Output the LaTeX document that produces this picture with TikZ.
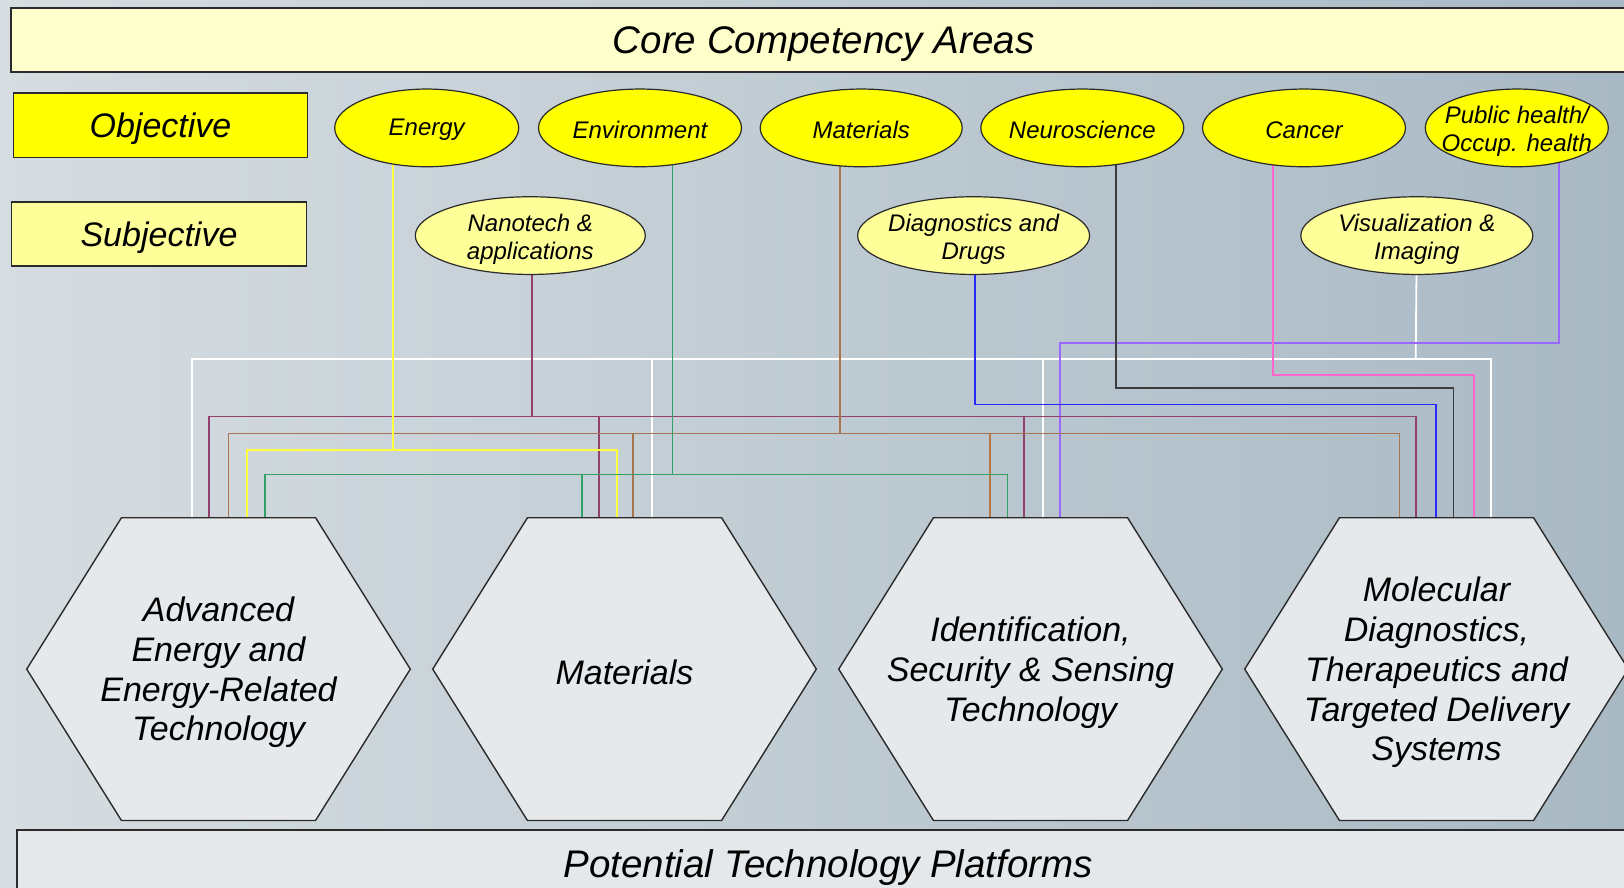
\documentclass[tikz,border=0pt]{standalone}
\usepackage{fontspec}
\setmainfont{Liberation Sans}
\usetikzlibrary{shapes.geometric,calc}
\definecolor{bgL}{HTML}{D6DDE1}
\definecolor{bgM}{HTML}{BFCBD3}
\definecolor{bgR}{HTML}{A9B9C4}
\definecolor{ylw}{HTML}{FFFF00}
\definecolor{pale}{HTML}{FFFF99}
\definecolor{cream}{HTML}{FFFFCC}
\definecolor{platf}{HTML}{E4E8EB}
\definecolor{hexf}{HTML}{E5E9EC}
\definecolor{edge}{HTML}{2A2A2A}
\definecolor{cNano}{HTML}{94406C}
\definecolor{cMat}{HTML}{A87550}
\definecolor{cEn}{HTML}{FFFF40}
\definecolor{cEnv}{HTML}{33A066}
\definecolor{cDD}{HTML}{2828FF}
\definecolor{cPub}{HTML}{9966FF}
\definecolor{cCan}{HTML}{FF66CC}
\definecolor{cNeu}{HTML}{3C3C3C}
\pgfdeclarelayer{bg}
\pgfdeclarelayer{mid}
\pgfsetlayers{bg,mid,main}
\begin{document}
\begin{tikzpicture}[x=1pt,y=-1pt,
  bigtxt/.style={font=\fontsize{38.5}{46}\selectfont\itshape},
  boxtxt/.style={font=\fontsize{34}{40}\selectfont\itshape},
  banner/.style={draw=edge,line width=2pt,inner sep=0pt,text depth=0pt,bigtxt},
  sidebox/.style={draw=edge,line width=1.8pt,inner sep=0pt,minimum height=64.2pt,text depth=0pt,boxtxt},
  ell/.style={ellipse,draw=edge,line width=1.2pt,inner sep=0pt,minimum height=77.7pt},
  oell/.style={ell,fill=ylw},
  sell/.style={ell,fill=pale},
  etext/.style={font=\fontsize{24}{28}\selectfont\itshape,align=center,inner sep=0pt,yshift=-3.5pt},
  etextone/.style={etext,yshift=1.5pt},
  hexin/.style={minimum width=193.7pt,minimum height=302.4pt,inner sep=0pt},
  htext/.style={font=\fontsize{34}{39.7}\selectfont\itshape,align=center,inner sep=0pt,yshift=-3.5pt},
  hexshape/.style={fill=hexf,draw=edge,line width=1.4pt,line join=miter},
  hexshadow/.style={fill=black!45,opacity=0.45},
  conn/.style={line width=1.6pt},
  wline/.style={conn,white,line width=1.8pt}
]
\useasboundingbox (0,0) rectangle (1624,888);
\begin{pgfonlayer}{bg}
\shade[left color=bgL,middle color=bgM,right color=bgR] (0,0) rectangle (1624,888);
\end{pgfonlayer}

% ---------- banners and side boxes
\node[banner,fill=cream,minimum width=1625pt,minimum height=64.2pt] (core) at (823.7,40.4) {Core Competency Areas};
\node[banner,fill=platf,minimum width=1623pt,minimum height=68pt] (plat) at (828.3,863.6) {Potential Technology Platforms};
\node[sidebox,fill=ylw,minimum width=294pt] (obj) at (160.5,125.3) {Objective};
\node[sidebox,fill=pale,minimum width=295pt] (sub) at (159,234) {Subjective};

% ---------- objective ellipses
\node[oell,minimum width=184pt,label={[etextone]center:Energy}] (en) at (426.7,127.9) {};
\node[oell,minimum width=203pt,label={[etextone]center:Environment}] (env) at (640,127.9) {};
\node[oell,minimum width=202pt,label={[etextone]center:Materials}] (mat) at (861.2,127.9) {};
\node[oell,minimum width=203pt,label={[etextone]center:Neuroscience}] (neu) at (1082.3,127.9) {};
\node[oell,minimum width=203pt,label={[etextone]center:Cancer}] (can) at (1304,127.9) {};
\node[oell,minimum width=183pt,label={[etext]center:{Public health/\\Occup. health}}] (pub) at (1516.8,127.9) {};

% ---------- subjective ellipses
\node[sell,minimum width=230pt,label={[etext]center:{Nanotech \&\\applications}}] (nano) at (530.3,235.6) {};
\node[sell,minimum width=232pt,label={[etext]center:{Diagnostics and\\Drugs}}] (dd) at (973.6,235.6) {};
\node[sell,minimum width=232pt,label={[etext]center:{Visualization \&\\Imaging}}] (vis) at (1416.8,235.6) {};

% ---------- hexagon platforms
\node[hexin,label={[htext]center:{Advanced\\Energy and\\Energy-Related\\Technology}}] (h1) at (218.5,669.1) {};
\node[hexin,label={[htext]center:{Materials}}] (h2) at (624.5,669.1) {};
\node[hexin,label={[htext]center:{Identification,\\Security \& Sensing\\Technology}}] (h3) at (1030.5,669.1) {};
\node[hexin,label={[htext]center:{Molecular\\Diagnostics,\\Therapeutics and\\Targeted Delivery\\Systems}}] (h4) at (1436.5,669.1) {};

\begin{pgfonlayer}{mid}
\foreach \h in {h1,h2,h3,h4}{
  \fill[hexshadow,xshift=1.5pt,yshift=-2.5pt] (\h.north west) -- (\h.north east) -- ([xshift=94.75pt]\h.east) -- (\h.south east) -- (\h.south west) -- ([xshift=-94.75pt]\h.west) -- cycle;
  \draw[hexshape] (\h.north west) -- (\h.north east) -- ([xshift=94.75pt]\h.east) -- (\h.south east) -- (\h.south west) -- ([xshift=-94.75pt]\h.west) -- cycle;
}
\end{pgfonlayer}

% ---------- connectors
\begin{pgfonlayer}{bg}
% white frame from Visualization & Imaging
\draw[wline] (vis.center) -- (1415.7,359) coordinate (wj);
\draw[wline] (191.7,0 |- h1.north) |- (1490.7,359) -- (1490.7,0 |- h4.north);
\draw[wline] (651.7,359) -- (651.7,0 |- h2.north);
\draw[wline] (1043.3,359) -- (1043.3,0 |- h3.north);
% Public health (lavender)
\draw[conn,cPub] (1558.7,0 |- pub.center) |- (1060,343) -- (1060,0 |- h3.north);
% Cancer (pink)
\draw[conn,cCan] (1272.7,0 |- can.center) |- (1474,375) -- (1474,0 |- h4.north);
% Neuroscience (dark)
\draw[conn,cNeu] (1115.7,0 |- neu.center) |- (1453.3,388) -- (1453.3,0 |- h4.north);
% Diagnostics and Drugs (blue)
\draw[conn,cDD] (975,0 |- dd.center) |- (1435.7,404.3) -- (1435.7,0 |- h4.north);
% Nanotech (maroon)
\draw[conn,cNano] (531.7,0 |- nano.center) -- (531.7,416.5);
\draw[conn,cNano] (209,0 |- h1.north) |- (1416,416.5) -- (1416,0 |- h4.north);
\draw[conn,cNano] (599,416.5) -- (599,0 |- h2.north);
\draw[conn,cNano] (1024,416.5) -- (1024,0 |- h3.north);
% Materials (brown)
\draw[conn,cMat] (840,0 |- mat.center) -- (840,433.5);
\draw[conn,cMat] (228.3,0 |- h1.north) |- (1399.3,433.5) -- (1399.3,0 |- h4.north);
\draw[conn,cMat] (632.7,433.5) -- (632.7,0 |- h2.north);
\draw[conn,cMat!85!orange] (990,433.5) -- (990,0 |- h3.north);
% Energy (yellow)
\draw[conn,cEn,line width=2pt] (393.3,0 |- en.center) -- (393.3,450);
\draw[conn,cEn,line width=2pt] (246.7,0 |- h1.north) |- (616.7,450) -- (616.7,0 |- h2.north);
% Environment (green)
\draw[conn,cEnv] (672.3,0 |- env.center) -- (672.3,474.3);
\draw[conn,cEnv] (265,0 |- h1.north) |- (1007.3,474.3) -- (1007.3,0 |- h3.north);
\draw[conn,cEnv] (581.7,474.3) -- (581.7,0 |- h2.north);
\end{pgfonlayer}
\end{tikzpicture}
\end{document}
